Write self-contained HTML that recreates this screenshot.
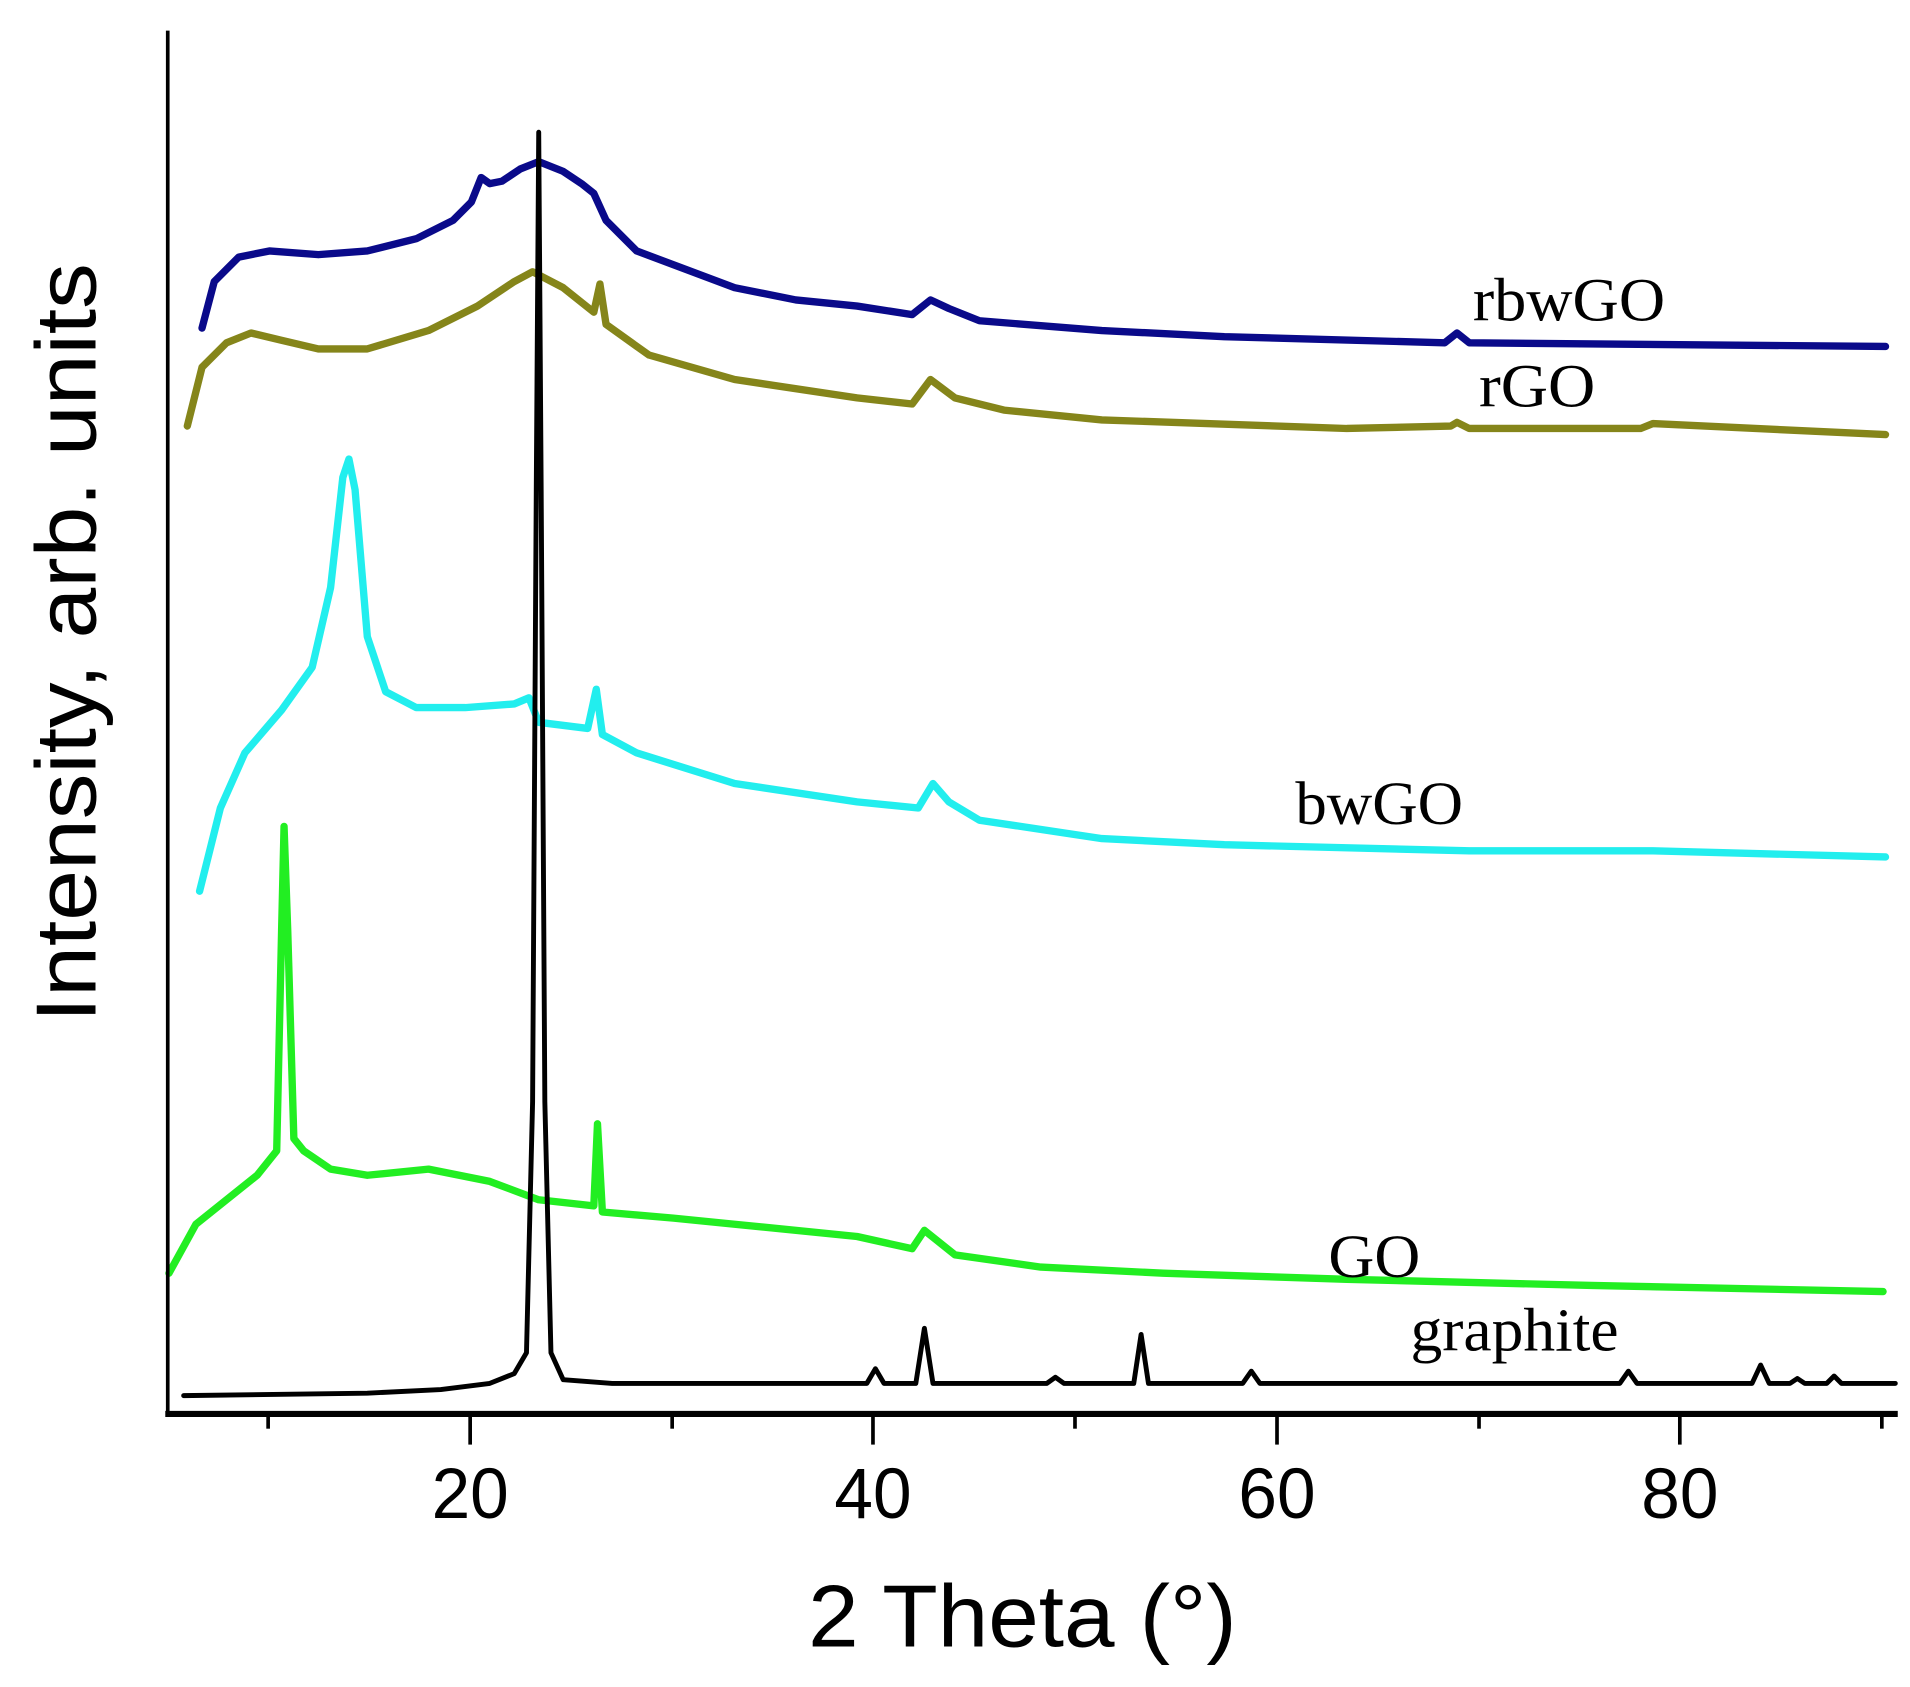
<!DOCTYPE html>
<html><head><style>body{margin:0;background:#fff}svg{display:block}</style></head><body>
<svg width="1910" height="1687" viewBox="0 0 1560 1378" preserveAspectRatio="none" xmlns="http://www.w3.org/2000/svg">
<rect width="1560" height="1378" fill="#fff"/>
<g fill="none" stroke-linejoin="round" stroke-linecap="round">
<polyline stroke="#0a0a8a" stroke-width="6" points="165,268 175,230 195,210 220,205 260,208 300,205 340,195 370,180 385,165 393,145 400,150 410,148 425,138 440,132 460,140 475,150 485,158 495,180 520,205 560,220 600,235 650,245 700,250 745,257 760,245 775,252 800,262 900,270 1000,275 1180,280 1190,272 1200,280 1540,283"/>
<polyline stroke="#85851a" stroke-width="6" points="153,348 165,300 185,280 205,272 230,278 260,285 300,285 350,270 390,250 420,230 435,222 460,235 485,255 490,232 495,265 530,290 600,310 700,325 745,330 760,310 780,325 820,335 900,343 1100,350 1185,348 1190,345 1200,350 1340,350 1350,346 1540,355"/>
<polyline stroke="#22eeee" stroke-width="6" points="163,728 180,660 200,615 230,580 255,545 270,480 280,390 285,375 290,400 300,520 315,565 340,578 380,578 420,575 432,570 440,590 480,595 487,563 492,600 520,615 600,640 700,655 750,660 762,640 775,655 800,670 900,685 1000,690 1200,695 1350,695 1540,700"/>
<polyline stroke="#22ee22" stroke-width="6" points="138,1040 160,1000 210,960 226,940 230,760 232,675 235,760 240,930 248,940 270,955 300,960 350,955 400,965 440,980 485,985 488,918 492,990 550,995 600,1000 700,1010 745,1020 755,1005 780,1025 850,1035 950,1040 1100,1045 1300,1050 1538,1055"/>
<polyline stroke="#000" stroke-width="4" points="150,1140 300,1138 360,1135 400,1130 420,1122 430,1105 435,900 438,400 440,108 442,400 445,900 450,1105 460,1127 500,1130 708,1130 715,1118 722,1130 748,1130 755,1085 762,1130 855,1130 862,1125 869,1130 926,1130 932,1090 938,1130 1015,1130 1022,1120 1029,1130 1323,1130 1330,1120 1337,1130 1431,1130 1438,1115 1445,1130 1462,1130 1468,1126 1474,1130 1492,1130 1498,1124 1504,1130 1548,1130"/>
</g>
<g stroke="#000" fill="none">
<line x1="137" y1="25" x2="137" y2="1157" stroke-width="3"/>
<line x1="135" y1="1155" x2="1550" y2="1155" stroke-width="5"/>
<g stroke-width="3">
<line x1="384" y1="1155" x2="384" y2="1180"/><line x1="713" y1="1155" x2="713" y2="1180"/><line x1="1043" y1="1155" x2="1043" y2="1180"/><line x1="1372" y1="1155" x2="1372" y2="1180"/>
<line x1="219" y1="1155" x2="219" y2="1167"/><line x1="549" y1="1155" x2="549" y2="1167"/><line x1="878" y1="1155" x2="878" y2="1167"/><line x1="1208" y1="1155" x2="1208" y2="1167"/><line x1="1537" y1="1155" x2="1537" y2="1167"/>
</g></g>
<g font-family="Liberation Sans, sans-serif" fill="#000" text-anchor="middle">
<text x="384" y="1240" font-size="58" textLength="63" lengthAdjust="spacingAndGlyphs">20</text><text x="713" y="1240" font-size="58" textLength="63" lengthAdjust="spacingAndGlyphs">40</text><text x="1043" y="1240" font-size="58" textLength="63" lengthAdjust="spacingAndGlyphs">60</text><text x="1372" y="1240" font-size="58" textLength="63" lengthAdjust="spacingAndGlyphs">80</text>
<text x="835" y="1345" font-size="72" textLength="350" lengthAdjust="spacingAndGlyphs">2 Theta (°)</text>
<text transform="translate(78,525) rotate(-90)" font-size="70" textLength="620" lengthAdjust="spacingAndGlyphs">Intensity, arb. units</text>
</g>
<g font-family="Liberation Serif, serif" font-size="50" fill="#000">
<text x="1203" y="262" textLength="157" lengthAdjust="spacingAndGlyphs">rbwGO</text><text x="1208" y="332" textLength="95" lengthAdjust="spacingAndGlyphs">rGO</text><text x="1058" y="673" textLength="137" lengthAdjust="spacingAndGlyphs">bwGO</text><text x="1085" y="1043" textLength="75" lengthAdjust="spacingAndGlyphs">GO</text><text x="1152" y="1103" textLength="170" lengthAdjust="spacingAndGlyphs">graphite</text>
</g>
</svg>
</body></html>
